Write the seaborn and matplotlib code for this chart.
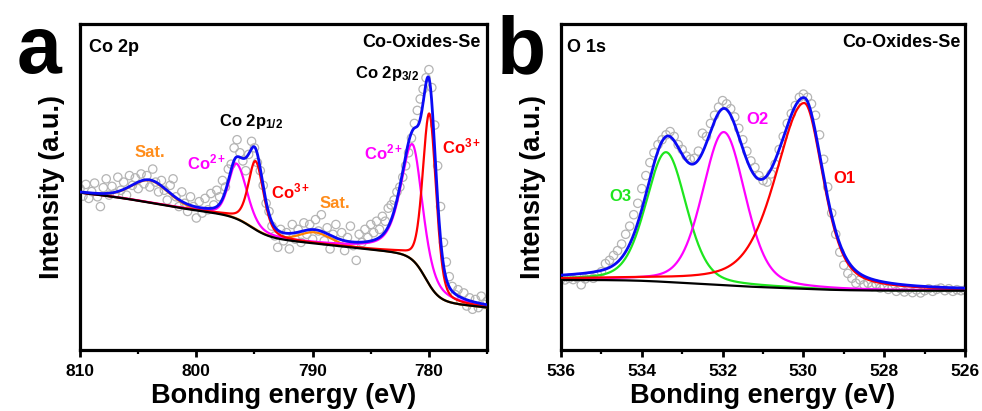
import numpy as np
import pandas as pd
import matplotlib
matplotlib.use("Agg")
import matplotlib.pyplot as plt
from matplotlib.ticker import MultipleLocator
import seaborn as sns

# ---------------- Co 2p spectrum ----------------
co_e_start, co_e_step = 810.0, -0.25
co_counts = [
    49.5, 47.2, 50.8, 46.5, 48.6, 51.2, 47.0, 44.0, 49.8, 52.5,
    47.5, 50.2, 48.0, 53.0, 49.0, 51.5, 47.5, 53.5, 50.5, 52.8,
    49.5, 54.0, 51.0, 53.5, 50.0, 55.5, 51.5, 48.5, 52.0, 49.0,
    46.0, 50.5, 52.5, 47.0, 44.0, 48.5, 45.0, 42.5, 47.0, 44.0,
    40.5, 45.5, 42.0, 46.5, 43.0, 48.0, 44.5, 49.0, 47.0, 52.0,
    50.0, 55.5, 57.0, 62.0, 64.5, 60.5, 58.0, 55.0, 60.0, 64.0,
    62.0, 57.5, 55.0, 50.5, 45.0, 42.5, 38.0, 35.0, 31.5, 37.0,
    33.5, 36.0, 31.0, 38.5, 34.0, 37.0, 33.0, 39.0, 35.5, 38.5,
    34.0, 40.0, 36.5, 41.5, 33.5, 37.5, 31.0, 35.5, 38.5, 33.0,
    36.0, 30.5, 34.5, 38.0, 32.0, 27.5, 35.5, 33.0, 37.0, 34.5,
    38.5, 36.0, 39.5, 37.0, 41.0, 39.5, 43.5, 44.5, 46.0, 48.5,
    50.0, 53.0, 56.5, 60.5, 65.0, 69.5, 73.5, 77.0, 80.0, 83.5,
    86.0, 80.5, 69.0, 56.5, 44.0, 33.0, 27.0, 22.5, 19.5, 17.0,
    18.5, 15.0, 17.5, 13.5, 16.0, 12.5, 15.5, 13.0, 16.5, 14.0,
    15.0,
]
# background: base level, slope above co_bg_ref, and steps (centre, width, height)
co_bg_base, co_bg_slope, co_bg_ref = 13.8, 0.38, 777.0
co_bg_steps = [(780.3, 0.6, 14.0), (795.3, 0.8, 6.0), (803.5, 2.0, 2.0)]
# fitted peaks: (centre, height, fwhm high-BE side, fwhm low-BE side, lorentz fraction)
co3_peaks = [(779.95, 52.5, 1.35, 1.35, 0.3), (794.9, 21.0, 1.5, 1.6, 0.4)]
co2_peaks = [(781.4, 35.5, 2.4, 2.0, 0.6), (796.55, 16.8, 1.6, 2.1, 0.3)]
co_sat_peaks = [(804.0, 6.8, 3.8, 3.8, 0.2), (789.8, 3.4, 3.2, 3.2, 0.2)]

# ---------------- O 1s spectrum ----------------
o_e_start, o_e_step = 536.0, -0.1
o_counts = [
    21.8, 21.5, 22.0, 21.6, 22.2, 20.0, 21.8, 22.6, 22.0, 23.2,
    24.0, 26.5, 27.5, 29.0, 30.5, 32.5, 35.5, 38.0, 41.5, 45.0,
    49.5, 53.5, 57.5, 60.5, 63.0, 64.5, 66.0, 67.0, 65.5, 63.0,
    61.5, 59.5, 58.5, 58.8, 61.0, 66.5, 65.5, 69.5, 72.0, 74.5,
    76.5, 75.5, 74.0, 71.5, 68.0, 64.5, 61.0, 58.0, 56.0, 53.5,
    52.0, 51.5, 54.0, 57.0, 61.5, 65.5, 69.5, 72.5, 75.0, 77.5,
    78.5, 77.5, 75.5, 72.0, 66.0, 58.5, 50.0, 42.0, 35.5, 30.0,
    26.0, 23.5, 22.0, 20.5, 21.5, 20.0, 20.5, 19.5, 20.2, 19.0,
    19.5, 18.6, 19.2, 18.0, 18.8, 17.8, 18.6, 17.6, 18.4, 17.5,
    18.2, 18.8, 18.0, 18.6, 19.0, 18.2, 18.8, 18.0, 18.5, 18.2,
    18.4,
]
o_bg_base, o_bg_slope, o_bg_ref = 18.2, 0.0, 526.0
o_bg_steps = [(533.4, 0.5, 1.1), (532.0, 0.5, 1.1), (530.0, 0.6, 1.1)]
o1_peaks = [(529.98, 57.0, 1.7, 1.12, 0.5)]
o2_peaks = [(531.97, 47.0, 1.25, 1.25, 0.3)]
o3_peaks = [(533.40, 39.8, 1.18, 1.18, 0.3)]

co_ticks = [810, 800, 790, 780]
o_ticks = [536, 534, 532, 530, 528, 526]

BLUE = "#0a0af5"
RED = "#ff0000"
MAGENTA = "#ff00ff"
ORANGE = "#ff8000"
ORANGE_TEXT = "#ff8c1a"
GREEN = "#1ee61e"
DOTS = "#b4b4b4"


def peak_shape(e, peaks):
    total = np.zeros_like(e)
    for c, h, f_hi, f_lo, eta in peaks:
        f = np.where(e >= c, f_hi, f_lo)
        x = (e - c) / f
        gauss = np.exp(-4 * np.log(2) * x ** 2)
        lorentz = 1.0 / (1.0 + 4 * x ** 2)
        total += h * (eta * lorentz + (1 - eta) * gauss)
    return total


def background(e, base, slope, ref, steps):
    bg = base + slope * (e - ref)
    for c, w, h in steps:
        bg = bg + h / (1.0 + np.exp(-(e - c) / w))
    return bg


def style_axes(ax, xlim, ticks, minor):
    ax.set_xlim(*xlim)
    ax.set_ylim(0, 100)
    ax.set_xticks(ticks)
    ax.xaxis.set_minor_locator(MultipleLocator(minor))
    ax.set_yticks([])
    for s in ax.spines.values():
        s.set_visible(True)
        s.set_linewidth(2.3)
        s.set_color("black")
    ax.tick_params(axis="x", which="major", direction="out", length=5, width=2,
                   labelsize=12.5, pad=5, bottom=True, colors="black")
    ax.tick_params(axis="x", which="minor", direction="out", length=3, width=1.6,
                   bottom=True, colors="black")
    for lab in ax.get_xticklabels():
        lab.set_fontweight("bold")
    ax.set_xlabel("Bonding energy (eV)", fontsize=19.5, fontweight="bold",
                  labelpad=3, color="black")
    ax.set_ylabel("Intensity (a.u.)", fontsize=19.5, fontweight="bold",
                  labelpad=11, color="black")


def draw_points(ax, e, counts):
    sns.scatterplot(x=e, y=counts, ax=ax, marker="o", s=36, linewidth=0.9,
                    legend=False, zorder=2)
    coll = ax.collections[-1]
    coll.set_facecolor("none")
    coll.set_edgecolor(DOTS)


def draw_line(ax, e, y, color, lw, z):
    sns.lineplot(x=e, y=y, ax=ax, color=color, linewidth=lw, zorder=z,
                 sort=False, estimator=None, legend=False)


sns.set_theme(style="white")
plt.rcParams.update({
    "font.family": ["Liberation Sans", "DejaVu Sans"],
    "font.weight": "bold",
    "axes.labelweight": "bold",
    "mathtext.fontset": "custom",
    "mathtext.rm": "Liberation Sans:bold",
    "mathtext.it": "Liberation Sans:bold",
    "mathtext.bf": "Liberation Sans:bold",
    "text.color": "black",
    "axes.edgecolor": "black",
    "xtick.color": "black",
    "axes.labelcolor": "black",
})

fig = plt.figure(figsize=(9.82, 4.11), dpi=100)
ax_a = fig.add_axes([0.0815, 0.1484, 0.4145, 0.7932])
ax_b = fig.add_axes([0.5713, 0.1484, 0.4114, 0.7932])

# ---- panel a: Co 2p ----
co_e = co_e_start + co_e_step * np.arange(len(co_counts))
fit_a = np.linspace(810, 775, 1401)
bg_a = background(fit_a, co_bg_base, co_bg_slope, co_bg_ref, co_bg_steps)
co3_a = peak_shape(fit_a, co3_peaks)
co2_a = peak_shape(fit_a, co2_peaks)
sat_a = peak_shape(fit_a, co_sat_peaks)

draw_points(ax_a, co_e, co_counts)
draw_line(ax_a, fit_a, bg_a + sat_a, ORANGE, 1.6, 3)
draw_line(ax_a, fit_a, bg_a + co2_a, MAGENTA, 1.6, 4)
draw_line(ax_a, fit_a, bg_a + co3_a, RED, 1.6, 5)
draw_line(ax_a, fit_a, bg_a, "black", 1.6, 6)
draw_line(ax_a, fit_a, bg_a + co3_a + co2_a + sat_a, BLUE, 2.0, 7)
style_axes(ax_a, (810, 775), co_ticks, 5)

ax_a.text(0.022, 0.929, "Co 2p", transform=ax_a.transAxes, fontsize=13,
          fontweight="bold", ha="left", va="center")
ax_a.text(0.985, 0.942, "Co-Oxides-Se", transform=ax_a.transAxes, fontsize=13,
          fontweight="bold", ha="right", va="center")
lab = dict(fontsize=12, fontweight="bold", ha="center", va="center")
ax_a.text(783.6, 84.7, r"Co 2p$_{3/2}$", color="black", **lab)
ax_a.text(795.3, 70.0, r"Co 2p$_{1/2}$", color="black", **lab)
ax_a.text(804.0, 60.7, "Sat.", color=ORANGE_TEXT, **lab)
ax_a.text(788.1, 45.0, "Sat.", color=ORANGE_TEXT, **lab)
ax_a.text(799.1, 57.4, r"Co$^{2+}$", color=MAGENTA, **lab)
ax_a.text(783.9, 60.5, r"Co$^{2+}$", color=MAGENTA, **lab)
ax_a.text(791.9, 48.6, r"Co$^{3+}$", color=RED, **lab)
ax_a.text(777.2, 62.4, r"Co$^{3+}$", color=RED, **lab)

# ---- panel b: O 1s ----
o_e = o_e_start + o_e_step * np.arange(len(o_counts))
fit_b = np.linspace(536, 526, 1001)
bg_b = background(fit_b, o_bg_base, o_bg_slope, o_bg_ref, o_bg_steps)
o1_b = peak_shape(fit_b, o1_peaks)
o2_b = peak_shape(fit_b, o2_peaks)
o3_b = peak_shape(fit_b, o3_peaks)

draw_points(ax_b, o_e, o_counts)
draw_line(ax_b, fit_b, bg_b + o3_b, GREEN, 1.6, 3)
draw_line(ax_b, fit_b, bg_b + o2_b, MAGENTA, 1.6, 4)
draw_line(ax_b, fit_b, bg_b + o1_b, RED, 1.6, 5)
draw_line(ax_b, fit_b, bg_b, "black", 1.6, 6)
draw_line(ax_b, fit_b, bg_b + o1_b + o2_b + o3_b, BLUE, 2.0, 7)
style_axes(ax_b, (536, 526), o_ticks, 1)

ax_b.text(0.015, 0.929, "O 1s", transform=ax_b.transAxes, fontsize=13,
          fontweight="bold", ha="left", va="center")
ax_b.text(0.99, 0.942, "Co-Oxides-Se", transform=ax_b.transAxes, fontsize=13,
          fontweight="bold", ha="right", va="center")
ax_b.text(531.15, 70.6, "O2", color=MAGENTA, **lab)
ax_b.text(528.99, 52.7, "O1", color=RED, **lab)
ax_b.text(534.52, 47.0, "O3", color=GREEN, **lab)

# panel letters
fig.text(17 / 982, 1 - 73 / 411, "a", fontsize=58, fontweight="bold",
         ha="left", va="baseline", color="black")
fig.text(497 / 982, 1 - 73 / 411, "b", fontsize=58, fontweight="bold",
         ha="left", va="baseline", color="black")

fig.savefig("out.png", dpi=100)
